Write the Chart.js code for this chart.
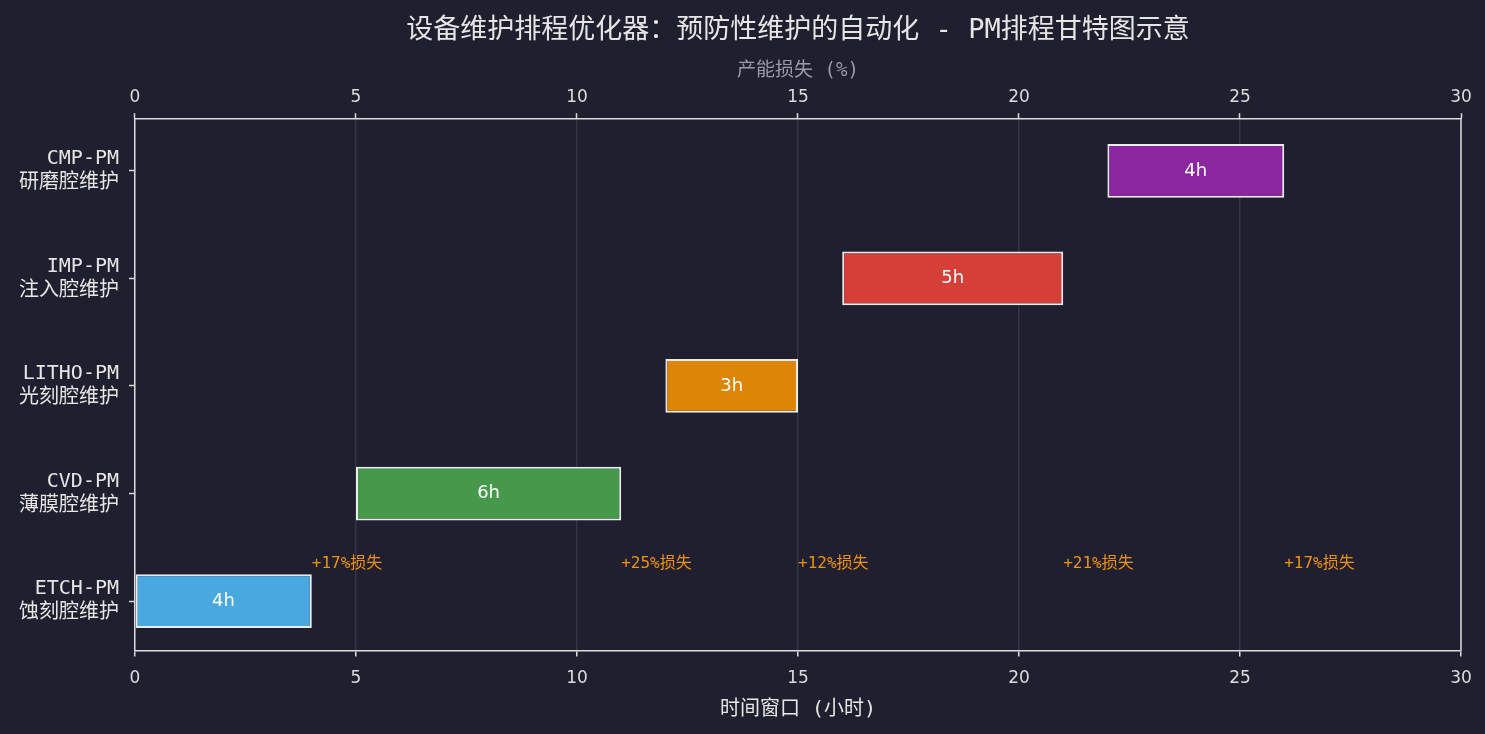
<!DOCTYPE html>
<html>
<head>
<meta charset="utf-8">
<script src="https://cdn.jsdelivr.net/npm/chart.js@4.4.1/dist/chart.umd.min.js"></script>
<style>
  html, body { margin: 0; padding: 0; background: #1f1f2f; }
  #wrap { width: 1485px; height: 734px; }
</style>
</head>
<body>
<div id="wrap"><canvas id="c"></canvas></div>
<script>
// ---- data ----
const categories = [
  ['CMP-PM', '研磨腔维护'],
  ['IMP-PM', '注入腔维护'],
  ['LITHO-PM', '光刻腔维护'],
  ['CVD-PM', '薄膜腔维护'],
  ['ETCH-PM', '蚀刻腔维护']
];
const startHours = [22, 16, 12, 5, 0];
const durationHours = [4, 5, 3, 6, 4];
const lossPercent = [17, 21, 12, 25, 17];
const barColors = ['#8b25a0', '#d63f37', '#dc8506', '#46994a', '#4aa8e0'];
const xTicks = [0, 5, 10, 15, 20, 25, 30];
const titleText = '设备维护排程优化器：预防性维护的自动化 - PM排程甘特图示意';

const N = categories.length;
const rowIndex = categories.map((c, i) => N - 1 - i);       // bottom row = 0
const points = startHours.map((s, i) => ({ x: [s, s + durationHours[i]], y: rowIndex[i] }));

const MONO = "'DejaVu Sans Mono', 'Noto Sans CJK SC', sans-serif";
const SANS = "'DejaVu Sans', 'Noto Sans CJK SC', sans-serif";
const ANN_Y = 0.35;

const overlay = {
  id: 'overlay',
  afterDatasetsDraw(chart) {
    const ctx = chart.ctx;
    const meta = chart.getDatasetMeta(0);
    const xs = chart.scales.x, ys = chart.scales.y;
    ctx.save();
    ctx.fillStyle = '#ffffff';
    ctx.font = "18px " + SANS;
    ctx.textAlign = 'center';
    ctx.textBaseline = 'middle';
    meta.data.forEach((bar, i) => {
      const cx = xs.getPixelForValue(startHours[i] + durationHours[i] / 2);
      ctx.fillText(durationHours[i] + 'h', cx, bar.y);
    });
    ctx.fillStyle = '#f0920c';
    ctx.font = "16px " + MONO;
    ctx.textAlign = 'left';
    const yAnn = ys.getPixelForValue(ANN_Y);
    startHours.forEach((s, i) => {
      ctx.fillText('+' + lossPercent[i] + '%损失', xs.getPixelForValue(s + durationHours[i]), yAnn);
    });
    ctx.restore();
  },
  afterDraw(chart) {
    const ctx = chart.ctx, a = chart.chartArea;
    ctx.save();
    ctx.strokeStyle = '#dcdcdc';
    ctx.lineWidth = 1.5;
    ctx.beginPath();
    ctx.moveTo(a.right, a.top);
    ctx.lineTo(a.right, a.bottom);
    ctx.stroke();
    const tb = chart.titleBlock;
    ctx.fillStyle = '#e6e6e6';
    ctx.font = "27px " + MONO;
    ctx.textAlign = 'center';
    ctx.textBaseline = 'middle';
    ctx.fillText(titleText, (a.left + a.right) / 2, tb.top + 6 + 27 * 1.2 / 2);
    ctx.restore();
  }
};

new Chart(document.getElementById('c'), {
  type: 'bar',
  data: {
    datasets: [{
      data: points,
      backgroundColor: barColors,
      borderColor: '#ececec',
      borderWidth: 2,
      borderSkipped: false,
      barPercentage: 0.5,
      categoryPercentage: 1.0
    }]
  },
  options: {
    indexAxis: 'y',
    responsive: true,
    maintainAspectRatio: false,
    animation: false,
    layout: { padding: { left: 9, right: 24, top: 9, bottom: 12 } },
    plugins: {
      legend: { display: false },
      tooltip: { enabled: false },
      title: {
        display: true,
        text: titleText,
        color: 'rgba(0,0,0,0)',
        font: { family: MONO, size: 27, weight: 'normal' },
        padding: { top: 6, bottom: 12 }
      }
    },
    scales: {
      x: {
        type: 'linear',
        position: 'bottom',
        min: 0, max: 30,
        z: 1,
        afterBuildTicks: (s) => { s.ticks = xTicks.map(v => ({ value: v })); },
        ticks: { color: '#dcdcdc', font: { family: SANS, size: 17 }, padding: 12 },
        grid: { color: 'rgba(70,70,90,0.55)', lineWidth: 1.5, tickLength: 6, tickColor: '#dcdcdc', tickWidth: 1.5 },
        border: { display: true, color: '#dcdcdc', width: 1.5 },
        title: { display: true, text: '时间窗口 (小时)', color: '#e6e6e6', font: { family: MONO, size: 20 }, padding: { top: -3, bottom: 0 } }
      },
      x2: {
        type: 'linear',
        position: 'top',
        min: 0, max: 30,
        afterBuildTicks: (s) => { s.ticks = xTicks.map(v => ({ value: v })); },
        ticks: { color: '#dcdcdc', font: { family: SANS, size: 17, lineHeight: 1.0 }, padding: 7 },
        grid: { drawOnChartArea: false, tickLength: 6, tickColor: '#dcdcdc', tickWidth: 1.5 },
        border: { display: true, color: '#dcdcdc', width: 1.5 },
        title: { display: true, text: '产能损失 (%)', color: '#9a9aaa', font: { family: MONO, size: 19 }, padding: { top: 0, bottom: 0 } }
      },
      y: {
        type: 'linear',
        min: -0.46, max: 4.48,
        offset: false,
        afterBuildTicks: (s) => { s.ticks = rowIndex.map(v => ({ value: v })); },
        ticks: {
          color: '#e6e6e6', font: { family: MONO, size: 20, lineHeight: 1.2 }, padding: 10,
          callback: (v) => categories[N - 1 - v]
        },
        grid: { offset: false, drawOnChartArea: false, tickLength: 6, tickColor: '#dcdcdc', tickWidth: 1.5 },
        border: { display: true, color: '#dcdcdc', width: 1.5 }
      }
    }
  },
  plugins: [overlay]
});
</script>
</body>
</html>
